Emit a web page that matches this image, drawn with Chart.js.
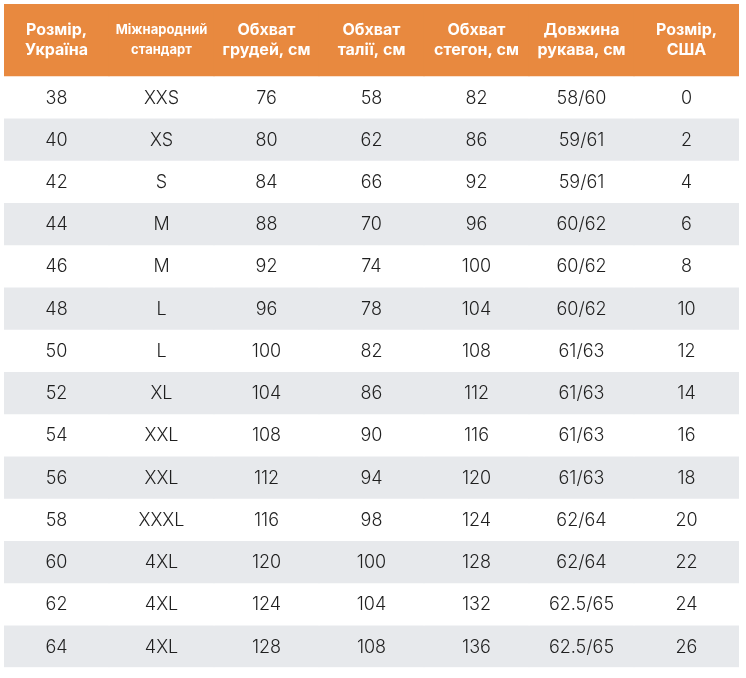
<!DOCTYPE html>
<html lang="uk">
<head>
<meta charset="utf-8">
<style>
  body { margin: 0; background: #fff; }
  #wrap { width: 746px; height: 678px; }
</style>
</head>
<body>
<div id="wrap"><canvas id="sizeChart"></canvas></div>
<script src="https://cdn.jsdelivr.net/npm/chart.js"></script>
<script>
const headers = [
  ['Розмір,', 'Україна'],
  ['Міжнародний', 'стандарт'],
  ['Обхват', 'грудей, см'],
  ['Обхват', 'талії, см'],
  ['Обхват', 'стегон, см'],
  ['Довжина', 'рукава, см'],
  ['Розмір,', 'США']
];
const sizeUA = [38, 40, 42, 44, 46, 48, 50, 52, 54, 56, 58, 60, 62, 64];
const sizeIntl = ['XXS', 'XS', 'S', 'M', 'M', 'L', 'L', 'XL', 'XXL', 'XXL', 'XXXL', '4XL', '4XL', '4XL'];
const chest = [76, 80, 84, 88, 92, 96, 100, 104, 108, 112, 116, 120, 124, 128];
const waist = [58, 62, 66, 70, 74, 78, 82, 86, 90, 94, 98, 100, 104, 108];
const hips = [82, 86, 92, 96, 100, 104, 108, 112, 116, 120, 124, 128, 132, 136];
const sleeve = ['58/60', '59/61', '59/61', '60/62', '60/62', '60/62', '61/63', '61/63', '61/63', '61/63', '62/64', '62/64', '62.5/65', '62.5/65'];
const sizeUS = [0, 2, 4, 6, 8, 10, 12, 14, 16, 18, 20, 22, 24, 26];

const columns = [sizeUA, sizeIntl, chest, waist, hips, sleeve, sizeUS];
const rowCount = sizeUA.length;
const headerSpan = 1.705; // header band is about 1.7 rows tall
const fontFamily = 'Inter, "Noto Sans", sans-serif';

// one band per row: the header plus every body row, each cell a floating bar
const datasets = [{
  data: headers.map(() => [-headerSpan, 0]),
  backgroundColor: '#e8893f'
}];
for (let r = 0; r < rowCount; r++) {
  datasets.push({
    data: headers.map(() => [r, r + 1]),
    backgroundColor: r % 2 === 1 ? '#e7e9ec' : '#ffffff'
  });
}

const cellText = {
  id: 'cellText',
  afterDatasetsDraw(chart) {
    const { ctx, scales: { x, y } } = chart;
    ctx.save();
    ctx.textAlign = 'center';
    ctx.textBaseline = 'middle';
    const hy = y.getPixelForValue(-headerSpan / 2);
    ctx.fillStyle = '#ffffff';
    headers.forEach((lines, c) => {
      const cx = x.getPixelForValue(c);
      ctx.font = (c === 1 ? '700 13px ' : '700 16px ') + fontFamily;
      ctx.fillText(lines[0], cx, hy - 9.5);
      ctx.fillText(lines[1], cx, hy + 10);
    });
    ctx.fillStyle = '#1f1f1f';
    ctx.font = '300 18px ' + fontFamily;
    columns.forEach((col, c) => {
      const cx = x.getPixelForValue(c);
      col.forEach((v, r) => {
        ctx.fillText(String(v), cx, y.getPixelForValue(r + 0.5) + 1);
      });
    });
    ctx.restore();
  }
};

new Chart(document.getElementById('sizeChart'), {
  type: 'bar',
  data: {
    labels: headers.map(h => h.join(' ')),
    datasets: datasets
  },
  options: {
    responsive: true,
    maintainAspectRatio: false,
    animation: false,
    layout: { padding: { left: 4, right: 7, top: 4, bottom: 10.7 } },
    grouped: false,
    categoryPercentage: 1,
    barPercentage: 1,
    borderWidth: 0,
    plugins: {
      legend: { display: false },
      tooltip: { enabled: false }
    },
    scales: {
      x: { type: 'category', display: false },
      y: { type: 'linear', display: false, reverse: true, min: -headerSpan, max: rowCount }
    }
  },
  plugins: [cellText]
});
</script>
</body>
</html>
